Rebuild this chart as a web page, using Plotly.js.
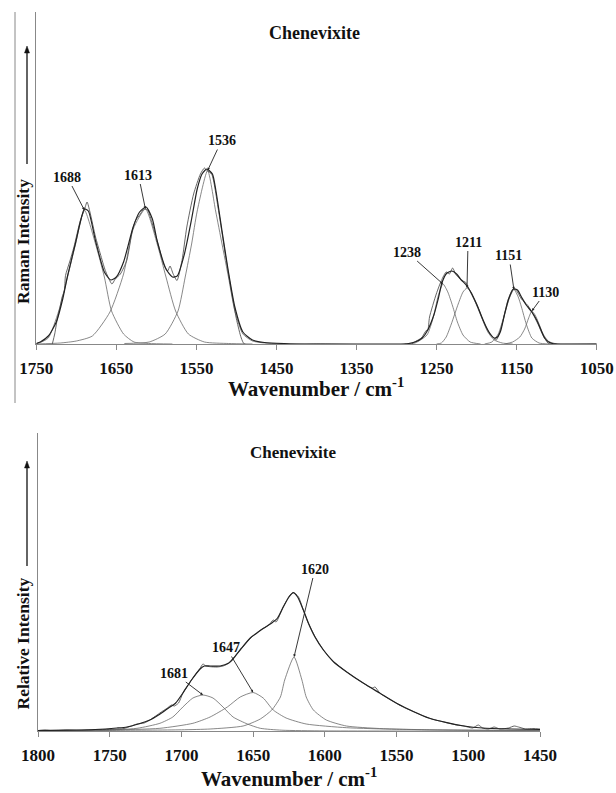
<!DOCTYPE html>
<html><head><meta charset="utf-8">
<script src="https://cdn.plot.ly/plotly-3.0.1.min.js"></script>
<style>html,body{margin:0;padding:0;background:#fff}#chart{width:616px;height:793px}</style>
</head><body><div id="chart"></div>
<script>
// ---------- Raman panel (top) ----------
const ramanTicks = [1750,1650,1550,1450,1350,1250,1150,1050];
const ramanObsX = [1730,1727,1724,1720,1717.7,1715,1713.5,1708,1703,1695,1690,1686.6,1683,1676,1670,1663.8,1655.5,1651.4,1645,1637,1630,1626,1620,1615.7,1611,1605,1597,1591,1586,1583,1579,1574.3,1568,1562,1553.5,1545,1540,1537,1531,1522.4,1514,1505.8,1499.6,1494,1490,1400,1280,1279.6,1269,1263,1261,1258.8,1250.4,1244,1238,1234,1230,1226,1222,1219,1214,1211,1204.6,1198.4,1192,1186,1180,1175.4,1171,1167,1161,1154.6,1150.4,1144,1136,1129.6,1123.4,1117,1111,1108,1050];
const ramanObsY = [0,10,24,38,47,53,68.5,83,97,123.5,134,142,132,107,90,73.5,60,65,70,83.5,113.5,123.5,130,135,134,120,97,80,73,78,70,63.5,83.5,117,150,170,176,173.5,170,133.5,90,50,23.5,6,0,0,0,1,6,13.5,14,27,50,63.5,72,70,76,69.5,66,63.5,62,57.5,47,37,23.5,13.5,7,4,12,23.5,43.5,55,53.5,45,38.5,30,20,8.5,1,0,0];
const ramanFitX = [1750,1745,1735,1725,1717,1711,1701,1695,1690,1685,1676,1665,1657,1650,1641,1629,1621,1613,1605,1599,1588,1580,1574,1565,1556,1549,1543,1537,1530,1526,1518,1510,1502,1492,1480,1465,1440,1400,1300,1285,1277,1268,1261,1253,1248,1243,1237,1231,1225,1219,1212,1206,1200,1194,1188,1183,1178,1174,1170,1165,1160,1154,1149,1144,1138,1131,1125,1119,1115,1110,1105,1050];
const ramanFitY = [0.5,2,8,22,45,68,101,122,135,133,103,72,64,67,82,117,132,137,125,103,75,67,68,90,125,155,170,175,170,155,113,72,37,12,4,1.5,0.5,0,0,0.5,2,6,14,30,45,62,71,73,70,64,58,50,40,28,17,10,6,7,13,30,45,55,54,47,39,32,24,13,6,2,0.5,0];
const c1688X = [1750,1745,1735,1722,1711,1701,1690,1676,1665,1656,1641,1628,1610,1580];
const c1688Y = [0.5,1.5,6,33,67,100,134,100,67,33,10,2,0.5,0];
const c1613X = [1750,1720,1700,1680,1658,1641,1629,1613.7,1599,1588,1576,1560,1540,1510,1480];
const c1613Y = [0,1,3,8,32,70,115,135,100,67,33,10,2,0.5,0];
const c1536X = [1640,1609,1589,1573,1564,1556,1549,1536,1526,1518,1510,1502,1492,1480,1465,1440];
const c1536Y = [0.5,2,10,33,67,100,133,173.5,133,100,67,33,10,3,1,0];
const c1238X = [1290,1277,1262,1254,1248,1242,1236,1230,1224,1217,1208,1195];
const c1238Y = [0,1,9,27,48,60,52,38,22,9,2,0];
const c1211X = [1250,1244,1238,1231.6,1223,1217,1212,1207,1202.5,1194,1186,1178,1168,1155];
const c1211Y = [0,1,7,20,40,52,56,52,43.5,27,12,4,1,0];
const c1151X = [1190,1181,1173,1165,1159,1153.4,1148,1144,1138,1131,1122,1110];
const c1151Y = [0,2,10,30,46,54.5,47,37,20,6,1,0];
const c1130X = [1165,1155,1146,1140,1135,1131,1127,1123,1117,1110,1100];
const c1130Y = [0,2,7,15,26,33,29,22,10,2.5,0];
const ramanLabels = ['1688','1613','1536','1238','1211','1151','1130'];

// ---------- Infrared panel (bottom) ----------
const irTicks = [1800,1750,1700,1650,1600,1550,1500,1450];
const irObsX = [1800,1795,1790,1780,1770,1760,1750,1740,1735,1731,1726,1722,1717,1713,1710,1707,1705,1702,1699,1693,1687,1685,1683,1680,1675,1671,1667,1664,1658,1652,1646.4,1643,1639,1636,1634,1629,1624.3,1622,1618.5,1615,1611.5,1606.8,1601,1594,1585,1573,1567,1565,1561.5,1550,1544,1538,1527,1520,1515,1508,1503,1497,1493,1490,1486,1482,1478,1472,1468,1465,1460,1455,1450];
const irObsY = [0.5,1,0.3,0.8,0.5,1.5,1.5,2.5,5,7,8,11,16,20,22.7,26,25,28,37.7,51,62.7,67,65,64.3,64,65,67.7,72.7,82.7,92.7,99.3,102.7,106,111,109,124.3,136,138.3,134.3,121,107.7,94.3,81,69.3,59.3,47.7,43,44,37.7,27.7,23,19.3,12.7,10,8.3,6,5,3,6,3,2,4,2,3,5,4,2,2.5,2];
const irFitX = [1800,1780,1760,1745,1738,1730,1722,1716,1710,1704,1699,1693,1687,1684,1680,1673,1667,1664,1658,1652,1646,1643,1637,1633,1629,1625,1622,1619,1615,1611.5,1607,1601,1594,1585,1573,1561.5,1550,1538,1527,1515,1503,1490,1470,1450];
const irFitY = [0.5,0.8,1.5,3,4,7,11,16,22,28,38,51,62,65,65,65,68,72,83,93,99.5,102.5,108,113,124,134,138.3,134,121,108,94.3,81,69.3,59.3,47.7,37.7,27.7,19.3,12.7,8.3,5,3,2,1.5];
const c1681X = [1800,1761,1731,1715,1706,1699,1692,1685,1678,1671,1664,1654,1645,1630,1600,1450];
const c1681Y = [0,0.3,2.7,7.7,14,24,33,36,33,24,14,7,2.7,0.8,0.1,0];
const c1647X = [1800,1750,1715,1692,1680,1668,1659,1650,1643,1636,1627,1613,1585,1550,1500,1450];
const c1647Y = [0.5,1,2.7,7.7,14,24,34,38.5,33,21,13,7,3.3,1.7,0.8,0.4];
const c1620X = [1800,1750,1700,1680,1657,1645,1637,1631,1628,1621.5,1616,1613,1608,1599,1585,1562,1527,1450];
const c1620Y = [0.3,0.6,1.2,2,5,12,21,34,51,74,51,34,21,11,5,2.5,1.2,0.4];
const irLabels = ['1681','1647','1620'];

// ---------- drawing ----------
const W = 616, H = 793;
const px = v => v / W, py = v => 1 - v / H;
const serif = 'Liberation Serif, Times New Roman, serif';

function line(x, y, xa, ya, color, width) {
  return {x: x, y: y, xaxis: xa, yaxis: ya, type: 'scatter', mode: 'lines',
    line: {color: color, width: width, shape: 'spline', smoothing: 0.6},
    hoverinfo: 'skip', showlegend: false};
}
function peakOf(xs, ys) {
  let k = 0; ys.forEach((v, i) => { if (v > ys[k]) k = i; });
  return [xs[k], ys[k]];
}

const compCol = '#6a6a6a';
const traces = [
  line(c1688X, c1688Y, 'x', 'y', compCol, 0.8),
  line(c1613X, c1613Y, 'x', 'y', compCol, 0.8),
  line(c1536X, c1536Y, 'x', 'y', compCol, 0.8),
  line(c1238X, c1238Y, 'x', 'y', compCol, 0.8),
  line(c1211X, c1211Y, 'x', 'y', compCol, 0.8),
  line(c1151X, c1151Y, 'x', 'y', compCol, 0.8),
  line(c1130X, c1130Y, 'x', 'y', compCol, 0.8),
  line(ramanObsX, ramanObsY, 'x', 'y', '#555', 0.9),
  line(ramanFitX, ramanFitY, 'x', 'y', '#222', 1.2),
  line(c1681X, c1681Y, 'x2', 'y2', compCol, 0.8),
  line(c1647X, c1647Y, 'x2', 'y2', compCol, 0.8),
  line(c1620X, c1620Y, 'x2', 'y2', compCol, 0.8),
  line(irObsX, irObsY, 'x2', 'y2', '#555', 0.9),
  line(irFitX, irFitY, 'x2', 'y2', '#222', 1.2)
];

const ramanComps = [[c1688X,c1688Y],[c1613X,c1613Y],[c1536X,c1536Y],[c1238X,c1238Y],[c1211X,c1211Y],[c1151X,c1151Y],[c1130X,c1130Y]];
const ramanOffsets = [[-17,-33],[-7,-34],[14,-30],[-36,-32],[1,-46],[-5,-34],[14,-19]];
const irComps = [[c1681X,c1681Y],[c1647X,c1647Y],[c1620X,c1620Y]];
const irOffsets = [[-29,-22],[-27,-45],[21,-88]];

const annotations = [];
function peakAnn(comps, labels, offs, xr, yr) {
  comps.forEach((c, i) => {
    const p = peakOf(c[0], c[1]);
    annotations.push({x: p[0], y: p[1], xref: xr, yref: yr, text: '<b>' + labels[i] + '</b>',
      showarrow: true, ax: offs[i][0], ay: offs[i][1], arrowhead: 2, arrowsize: 0.6,
      arrowwidth: 0.9, arrowcolor: '#222', standoff: 0,
      font: {family: serif, size: 14, color: '#111'}});
  });
}
peakAnn(ramanComps, ramanLabels, ramanOffsets, 'x', 'y');
peakAnn(irComps, irLabels, irOffsets, 'x2', 'y2');

function txt(x, y, t, size, angle) {
  annotations.push({xref: 'paper', yref: 'paper', x: px(x), y: py(y), text: t, showarrow: false,
    textangle: angle || 0, xanchor: 'center', yanchor: 'middle',
    font: {family: serif, size: size, color: '#111'}});
}
txt(314, 33, '<b>Chenevixite</b>', 18);
txt(293, 452, '<b>Chenevixite</b>', 17);
txt(316, 387, '<b>Wavenumber / cm<sup>-1</sup></b>', 21);
txt(289, 777, '<b>Wavenumber / cm<sup>-1</sup></b>', 21);
txt(22.5, 241.5, '<b>Raman Intensity</b>', 17.5, -90);
txt(22.5, 644, '<b>Relative Intensity</b>', 17.5, -90);

const shapes = [{type: 'line', xref: 'paper', yref: 'paper', x0: px(15), x1: px(15), y0: py(12), y1: py(403),
  line: {color: '#888', width: 1}}];
function arrow(x, yTip, yTail) {
  shapes.push({type: 'line', xref: 'paper', yref: 'paper', x0: px(x), x1: px(x), y0: py(yTail), y1: py(yTip + 5),
    line: {color: '#111', width: 1.3}});
  shapes.push({type: 'path', xref: 'paper', yref: 'paper',
    path: 'M ' + px(x) + ' ' + py(yTip) + ' L ' + px(x - 2.5) + ' ' + py(yTip + 7) + ' L ' + px(x + 2.5) + ' ' + py(yTip + 7) + ' Z',
    fillcolor: '#111', line: {color: '#111', width: 0.5}});
}
arrow(27, 46, 164);
arrow(27, 461, 566);

const axFont = {family: serif, size: 17, color: '#111', weight: 'bold'};
const xCommon = {showline: true, linecolor: '#888', linewidth: 1, ticks: 'outside', ticklen: 5,
  tickcolor: '#888', tickwidth: 1, showgrid: false, zeroline: false, tickfont: axFont, ticklabelstandoff: 4};
const yCommon = {showline: true, linecolor: '#888', linewidth: 1, ticks: '', showticklabels: false,
  showgrid: false, zeroline: false};

const layout = {
  width: W, height: H, margin: {l: 0, r: 0, t: 0, b: 0}, paper_bgcolor: '#fff', plot_bgcolor: '#fff',
  showlegend: false,
  xaxis: Object.assign({}, xCommon, {domain: [px(36.3), px(596.7)], range: [1750, 1050], anchor: 'y',
    tickvals: ramanTicks, ticktext: ramanTicks.map(String)}),
  yaxis: Object.assign({}, yCommon, {domain: [py(344), py(12)], range: [0, 332], anchor: 'x'}),
  xaxis2: Object.assign({}, xCommon, {domain: [px(38), px(540)], range: [1800, 1450], anchor: 'y2',
    tickvals: irTicks, ticktext: irTicks.map(String)}),
  yaxis2: Object.assign({}, yCommon, {domain: [py(731), py(433)], range: [0, 298], anchor: 'x2'}),
  annotations: annotations,
  shapes: shapes
};

Plotly.newPlot('chart', traces, layout, {staticPlot: true, displayModeBar: false});
</script></body></html>
